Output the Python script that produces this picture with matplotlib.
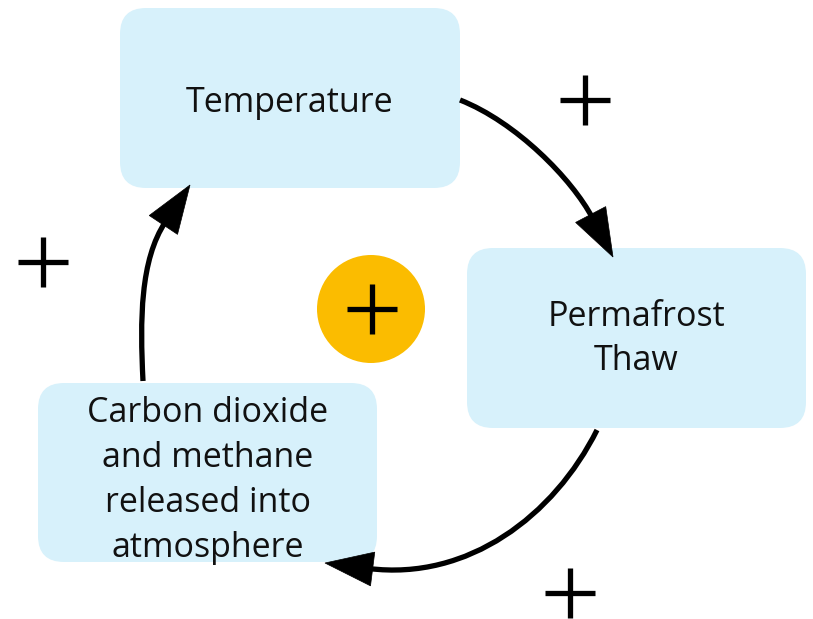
import matplotlib
matplotlib.use("Agg")
import matplotlib.pyplot as plt
import numpy as np
from matplotlib.patches import FancyBboxPatch, Circle, Polygon, PathPatch
from matplotlib.path import Path

W, H = 813, 619
BOX_COLOR = "#d7f1fb"
CIRCLE_COLOR = "#fbbc00"
TEXT_COLOR = "#111111"

# nodes: label, (left, top, width, height), text vertical offset
node_labels = ["Temperature", "Permafrost\nThaw",
               "Carbon dioxide\nand methane\nreleased into\natmosphere"]
node_boxes = [(120, 8, 340, 180), (467, 248, 339, 180), (38, 383, 339, 179)]
text_offsets = [5, 1, 8]

# arrows: start, start-handle, end-handle, tip (cubic curves)
arrow_starts = [(460, 100), (597, 430), (143, 381)]
arrow_c1 = [(516, 122), (554, 516), (140, 320)]
arrow_c2 = [(572, 179), (468, 581), (140, 260)]
arrow_tips = [(613, 257), (325, 563), (190, 185)]
HEAD_LEN, HEAD_HW = 48, 17

# plus signs: centre
plus_centres = [(585, 100), (43, 262), (570, 593)]
centre_circle = (371, 309, 54)

fig = plt.figure(figsize=(W / 100, H / 100), dpi=100)
ax = fig.add_axes([0, 0, 1, 1])
ax.set_xlim(0, W)
ax.set_ylim(H, 0)
ax.axis("off")

for label, (x, y, w, h), off in zip(node_labels, node_boxes, text_offsets):
    ax.add_patch(FancyBboxPatch((x, y), w, h,
                                boxstyle="round,pad=0,rounding_size=26",
                                fc=BOX_COLOR, ec="none"))
    ax.text(x + w / 2, y + h / 2 + off, label, ha="center", va="center",
            fontsize=24.5, family="Open Sans", color=TEXT_COLOR,
            linespacing=1.42)

for s, c1, c2, t in zip(arrow_starts, arrow_c1, arrow_c2, arrow_tips):
    s, c1, c2, t = map(np.array, (s, c1, c2, t))
    # head axis along the final tangent of the curve
    d = t - c2
    d = d / np.hypot(*d)
    base = t - d * HEAD_LEN
    path = Path([s, c1, c2, base + d * 4],
                [Path.MOVETO, Path.CURVE4, Path.CURVE4, Path.CURVE4])
    ax.add_patch(PathPatch(path, fc="none", ec="black", lw=3.8,
                           capstyle="butt"))
    n = np.array([-d[1], d[0]])
    ax.add_patch(Polygon([t, base + n * HEAD_HW, base - n * HEAD_HW],
                         closed=True, fc="black", ec="black", lw=0.5))

cx, cy, r = centre_circle
ax.add_patch(Circle((cx, cy), r, fc=CIRCLE_COLOR, ec="none"))

half = 25
for (px, py) in plus_centres + [(cx + 1, cy)]:
    ax.plot([px - half, px + half], [py, py], color="black", lw=3.8,
            solid_capstyle="butt")
    ax.plot([px, px], [py - half, py + half], color="black", lw=3.8,
            solid_capstyle="butt")

fig.savefig("out.png", dpi=100)
